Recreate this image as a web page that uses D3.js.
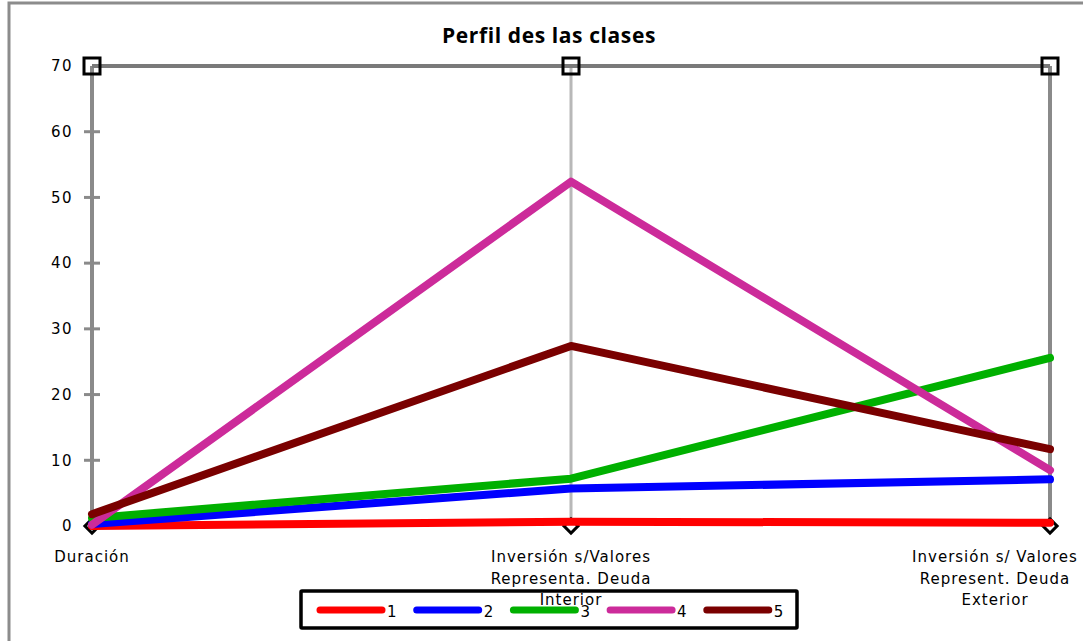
<!DOCTYPE html>
<html><head><meta charset="utf-8">
<script src="https://cdn.jsdelivr.net/npm/d3@7"></script>
<style>body{margin:0;background:#fff}svg{display:block}</style>
</head><body><svg id="c" width="1083" height="641"></svg>
<script>
const categories = [["Duración"], ["Inversión s/Valores","Representa. Deuda","Interior"], ["Inversión s/ Valores","Represent. Deuda","Exterior"]];
const seriesNames = ["1","2","3","4","5"];
const seriesColors = ["#ff0000","#0000ff","#00b000","#cc2b9a","#7a0000"];
const s1 = [0.0, 0.65, 0.5];
const s2 = [0.3, 5.7, 7.1];
const s3 = [1.2, 7.2, 25.6];
const s4 = [0.2, 52.4, 8.5];
const s5 = [1.8, 27.4, 11.7];
const seriesValues = [s1, s2, s3, s4, s5];
const yTicks = [0,10,20,30,40,50,60,70];

const svg = d3.select("#c");
const font = "'DejaVu Sans', Verdana, sans-serif";

// outer border
svg.append("rect").attr("x",9).attr("y",3).attr("width",1090).attr("height",660)
  .attr("fill","#fff").attr("stroke","#8c8c8c").attr("stroke-width",3);

const x = d3.scalePoint().domain([0,1,2]).range([92,1050]);
const y = d3.scaleLinear().domain([0,70]).range([526,66]);

// title
svg.append("text").attr("x",549).attr("y",43).attr("text-anchor","middle")
  .attr("font-family","'Open Sans', 'Liberation Sans', sans-serif").attr("font-weight","bold")
  .attr("font-size",21).attr("letter-spacing",0.6).attr("fill","#000").text("Perfil des las clases");

// vertical category lines
[0,1,2].forEach(i=>{
  svg.append("line").attr("x1",x(i)).attr("x2",x(i)).attr("y1",y(70)).attr("y2",y(0))
    .attr("stroke", i===1 ? "#b8b8b8" : "#8a8a8a").attr("stroke-width", i===1 ? 3 : 4);
});
// top line at 70
svg.append("line").attr("x1",x(0)).attr("x2",x(2)).attr("y1",y(70)).attr("y2",y(70))
  .attr("stroke","#7a7a7a").attr("stroke-width",4);

// y axis ticks and labels
const yAxis = d3.axisLeft(y).tickValues(yTicks).tickSize(0).tickPadding(19);
const ya = svg.append("g").attr("transform",`translate(${x(0)},0)`).call(yAxis);
ya.select(".domain").remove();
ya.selectAll("text").attr("font-family",font).attr("font-size",15).attr("letter-spacing",1.5).attr("fill","#000");
yTicks.filter(t=>t>0 && t<70).forEach(t=>{
  svg.append("line").attr("x1",x(0)-8).attr("x2",x(0)+8).attr("y1",y(t)).attr("y2",y(t))
    .attr("stroke","#8a8a8a").attr("stroke-width",3);
});

// diamonds at 0
[0,1,2].forEach(i=>{
  svg.append("path").attr("d",d3.symbol().type(d3.symbolSquare).size(100)())
    .attr("transform",`translate(${x(i)},${y(0)}) rotate(45)`)
    .attr("fill","#fff").attr("stroke","#000").attr("stroke-width",3);
});

// series lines
const line = d3.line().x((d,i)=>x(i)).y(d=>y(d));
seriesValues.forEach((vals,k)=>{
  svg.append("path").datum(vals).attr("d",line).attr("fill","none")
    .attr("stroke",seriesColors[k]).attr("stroke-width",8)
    .attr("stroke-linejoin","round").attr("stroke-linecap","round");
});

// squares at top
[0,1,2].forEach(i=>{
  svg.append("rect").attr("x",x(i)-8).attr("y",y(70)-8).attr("width",16).attr("height",16)
    .attr("fill","none").attr("stroke","#000").attr("stroke-width",3);
});

// legend
const lg = svg.append("g");
lg.append("rect").attr("x",301).attr("y",591).attr("width",496).attr("height",37)
  .attr("fill","#fff").attr("stroke","#000").attr("stroke-width",3.5).attr("rx",1);
seriesNames.forEach((n,k)=>{
  const lx = 320 + k*96.7;
  lg.append("line").attr("x1",lx).attr("x2",lx+62).attr("y1",610).attr("y2",610)
    .attr("stroke",seriesColors[k]).attr("stroke-width",7).attr("stroke-linecap","round");
  lg.append("text").attr("x",lx+67).attr("y",617).attr("font-family",font).attr("font-size",15)
    .attr("fill","#000").text(n);
});

// category labels
const catX = [92, 571, 995];
categories.forEach((lines,i)=>{
  lines.forEach((t,j)=>{
    svg.append("text").attr("x",catX[i]).attr("y",562 + j*21.5).attr("text-anchor","middle")
      .attr("font-family",font).attr("font-size",15).attr("letter-spacing",1).attr("fill","#000").text(t);
  });
});
</script></body></html>
